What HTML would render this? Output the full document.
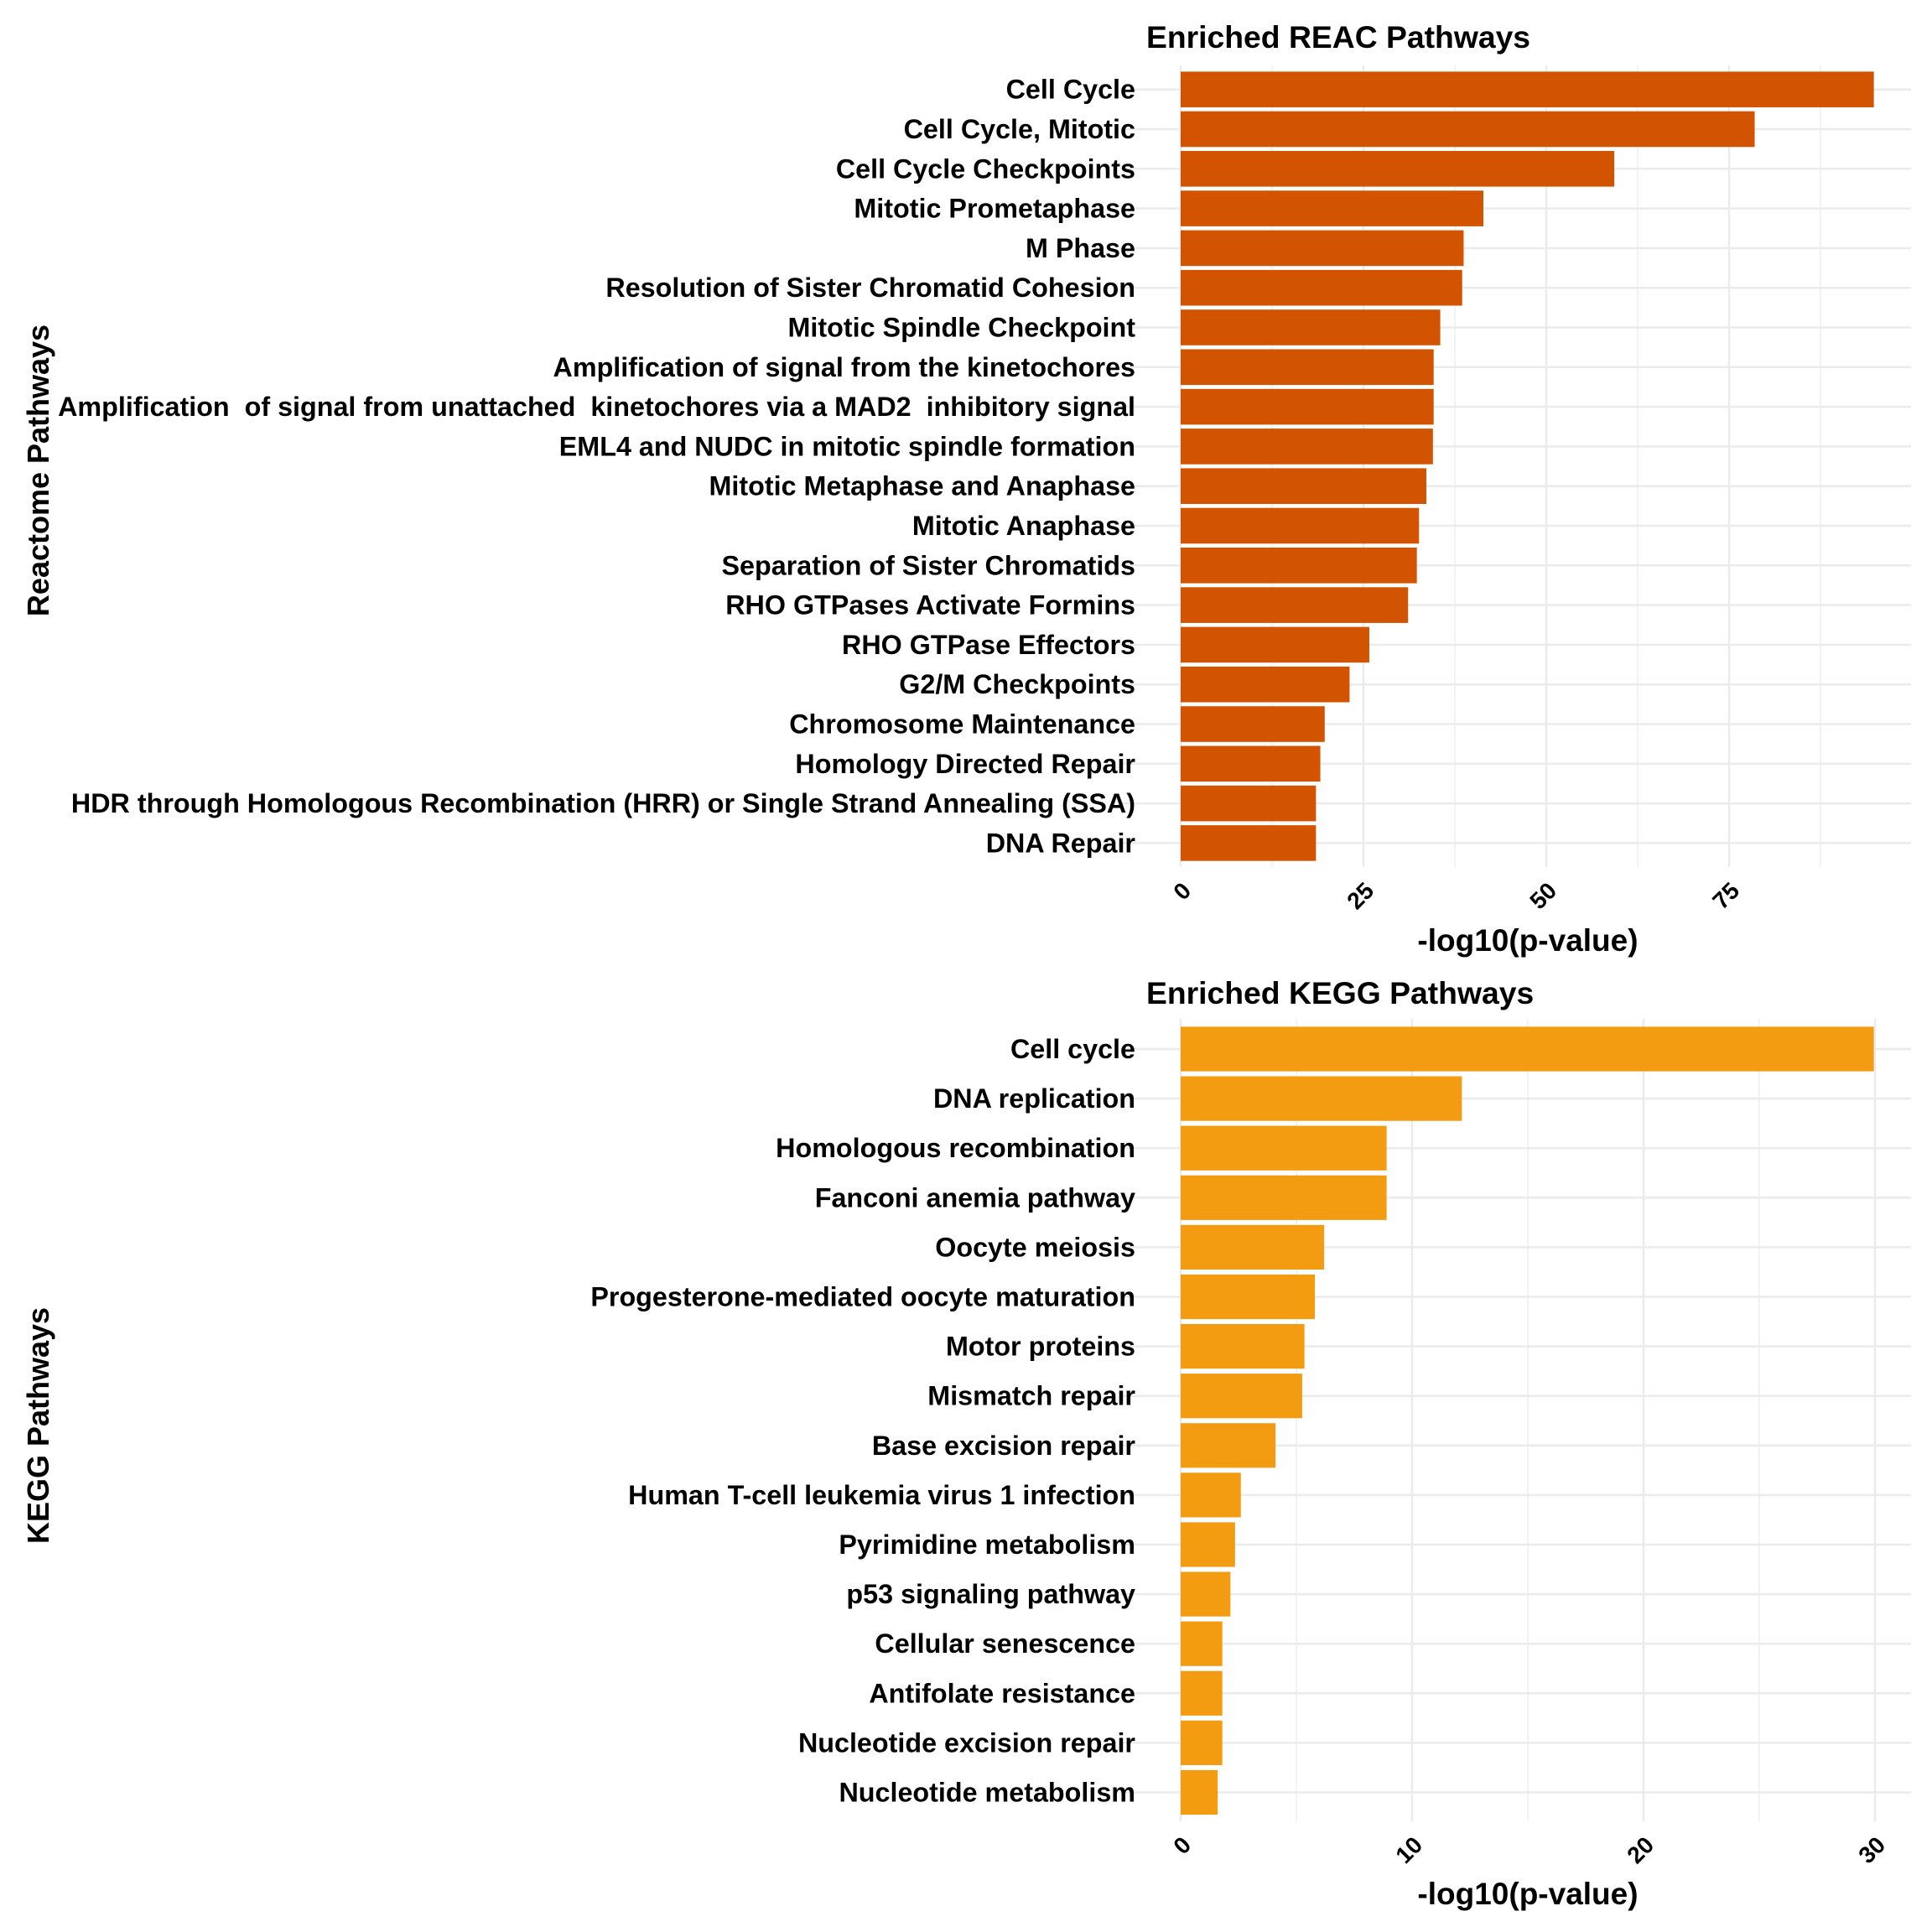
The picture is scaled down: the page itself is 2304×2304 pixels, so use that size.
<!DOCTYPE html>
<html><head><meta charset="utf-8"><style>
html,body{margin:0;padding:0;background:#fff;}
svg{display:block;font-family:"Liberation Sans",Arial,sans-serif;font-weight:bold;}
text{white-space:pre;}
</style></head><body>
<svg id="chart" width="2304" height="2304" viewBox="0 0 2304 2304"></svg>
<script>
const reacCategories=["Cell Cycle","Cell Cycle, Mitotic","Cell Cycle Checkpoints","Mitotic Prometaphase","M Phase","Resolution of Sister Chromatid Cohesion","Mitotic Spindle Checkpoint","Amplification of signal from the kinetochores","Amplification  of signal from unattached  kinetochores via a MAD2  inhibitory signal","EML4 and NUDC in mitotic spindle formation","Mitotic Metaphase and Anaphase","Mitotic Anaphase","Separation of Sister Chromatids","RHO GTPases Activate Formins","RHO GTPase Effectors","G2/M Checkpoints","Chromosome Maintenance","Homology Directed Repair","HDR through Homologous Recombination (HRR) or Single Strand Annealing (SSA)","DNA Repair"];
const reacValues=[94.8,78.5,59.3,41.4,38.7,38.5,35.5,34.6,34.6,34.5,33.6,32.6,32.3,31.1,25.8,23.1,19.7,19.1,18.5,18.5];
const reacTicks=[0,25,50,75];
const keggCategories=["Cell cycle","DNA replication","Homologous recombination","Fanconi anemia pathway","Oocyte meiosis","Progesterone-mediated oocyte maturation","Motor proteins","Mismatch repair","Base excision repair","Human T-cell leukemia virus 1 infection","Pyrimidine metabolism","p53 signaling pathway","Cellular senescence","Antifolate resistance","Nucleotide excision repair","Nucleotide metabolism"];
const keggValues=[29.95,12.15,8.9,8.9,6.2,5.8,5.35,5.25,4.1,2.6,2.35,2.15,1.8,1.8,1.8,1.6];
const keggTicks=[0,10,20,30];

const NS="http://www.w3.org/2000/svg";
const svg=document.getElementById('chart');
function mk(tag,attrs,parent){const e=document.createElementNS(NS,tag);for(const k in attrs)e.setAttribute(k,attrs[k]);(parent||svg).appendChild(e);return e;}

function panel(cfg){
  const g=mk('g',{});
  
  
  const x0=1408, pxPerUnit=cfg.pxPerUnit, right=2279;
  const xs=v=>x0+v*pxPerUnit;
  const n=cfg.cats.length;
  const ys=i=>cfg.firstY+i*cfg.step;
  const tstep=cfg.ticks[1]-cfg.ticks[0];
  for(let t=-tstep/2;xs(t)<=right;t+=tstep/2){
    if(xs(t)<x0-30)continue;
    const major=cfg.ticks.includes(Math.round(t*100)/100);
    const l=mk('line',{x1:xs(t),x2:xs(t),y1:cfg.gridTop,y2:cfg.gridBottom,stroke:'#ebebeb','stroke-width':major?2.5:1.3},g);
    
    
  }
  for(let i=0;i<n;i++){
    const l=mk('line',{x1:1336,x2:right,y1:ys(i),y2:ys(i),stroke:'#ebebeb','stroke-width':2.5},g);
    
    
  }
  const bh=cfg.step*0.9;
  for(let i=0;i<n;i++){
    const r=mk('rect',{x:x0,y:ys(i)-bh/2,width:xs(cfg.vals[i])-x0,height:bh,fill:cfg.color},g);
    
    
    const t=mk('text',{x:1354,y:ys(i)+11,'text-anchor':'end','font-size':32.3,fill:'#000'},g);
    t.setAttributeNS('http://www.w3.org/XML/1998/namespace','xml:space','preserve');
    t.textContent=cfg.cats[i];
    
    
  }
  cfg.ticks.forEach(v=>{
    const tx=xs(v)+14, ty=cfg.gridBottom+30;
    const t=mk('text',{x:tx,y:ty,'text-anchor':'end','font-size':28,fill:'#000',transform:`rotate(-45 ${tx} ${ty})`},g);
    t.textContent=v;
    
    
  });
  const tt=mk('text',{x:1367,y:cfg.titleY,'font-size':37.3,fill:'#000'},g);
  tt.textContent=cfg.title;
  
  
  const xt=mk('text',{x:1822,y:cfg.xTitleY,'text-anchor':'middle','font-size':37,fill:'#000'},g);
  xt.textContent='-log10(p-value)';
  
  
  const yt=mk('text',{x:58,y:cfg.yTitleY,'text-anchor':'middle','font-size':36,fill:'#000',transform:`rotate(-90 58 ${cfg.yTitleY})`},g);
  yt.textContent=cfg.yTitle;
  
  
}
panel({name:'reactome-panel',cats:reacCategories,vals:reacValues,ticks:reacTicks,pxPerUnit:218/25,firstY:106.7,step:47.3,gridTop:78,gridBottom:1034,color:'#D35400',title:'Enriched REAC Pathways',titleY:57,xTitleY:1134,yTitle:'Reactome Pathways',yTitleY:561});
panel({name:'kegg-panel',cats:keggCategories,vals:keggValues,ticks:keggTicks,pxPerUnit:27.6,firstY:1251,step:59.1,gridTop:1215,gridBottom:2172,color:'#F39C12',title:'Enriched KEGG Pathways',titleY:1197,xTitleY:2271,yTitle:'KEGG Pathways',yTitleY:1700});
</script>
</body></html>
